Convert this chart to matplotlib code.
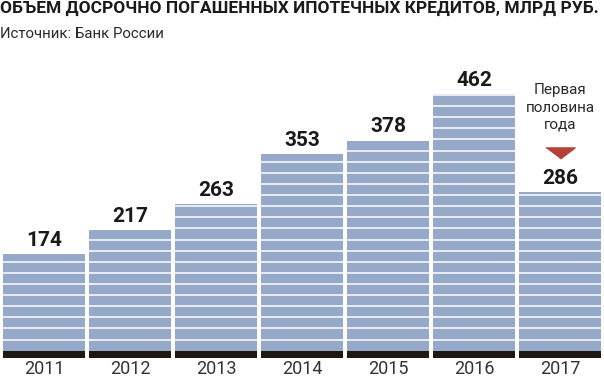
import matplotlib
matplotlib.use("Agg")
import numpy as np
import matplotlib.pyplot as plt

years = ["2011", "2012", "2013", "2014", "2015", "2016", "2017"]
values = [174, 217, 263, 353, 378, 462, 286]
title = "ОБЪЕМ ДОСРОЧНО ПОГАШЕННЫХ ИПОТЕЧНЫХ КРЕДИТОВ, МЛРД РУБ."
source = "Источник: Банк России"
note = "Первая\nполовина\nгода"

plt.rcParams['font.family'] = ['Roboto', 'DejaVu Sans']

bar_color = "#97a9c9"
base_color = "#1e1810"
text_color = "#1a1a1a"

fig = plt.figure(figsize=(6.04, 3.79), dpi=100)
ax = fig.add_axes([0, 0, 1, 1])
ax.set_xlim(-0.512, 6.512)
ax.set_ylim(-50.9, 630.8)
ax.axis("off")

x = np.arange(len(years))
ax.bar(x, values, width=0.953, color=bar_color, zorder=1)
ax.bar(x, -12.6, width=0.953, color=base_color, zorder=1)

# white stripes every 20 units inside the bars
for v in range(20, max(values), 20):
    ax.axhline(v, color="white", lw=1.1, zorder=2)

for xi, v in zip(x, values):
    ax.annotate(str(v), (xi, v), xytext=(0, 3), textcoords="offset points",
                ha="center", va="bottom", fontsize=15, fontweight="bold",
                color=text_color, zorder=3)

for xi, yr in zip(x, years):
    ax.annotate(yr, (xi, 0), xycoords=("data", "figure fraction"),
                xytext=(0, 0.5), textcoords="offset points",
                ha="center", va="bottom", fontsize=13, color="#333333")

# note above the last bar
ax.annotate(note, (x[-1], values[-1]), xytext=(0, 78), textcoords="offset points",
            ha="center", va="top", fontsize=11, color="#2a2a2a",
            linespacing=1.3, zorder=3)
tri = [(-1, 0.38), (1, 0.38), (0, -0.38)]
ax.plot(x[-1], values[-1] + 70, marker=tri, markersize=21, color="#b5403a",
        linestyle="none", zorder=3)

t = fig.text(0.0, 0.998, title, ha="left", va="top", fontsize=12,
             fontweight="bold", color=text_color)
# fit the title to the figure width
r = fig.canvas.get_renderer()
w = t.get_window_extent(r).width
t.set_fontsize(12 * 600 / w)
fig.text(0.0, 0.93, source, ha="left", va="top", fontsize=10.8, color="#2a2a2a")

fig.savefig("out.png", dpi=100, facecolor="white")
